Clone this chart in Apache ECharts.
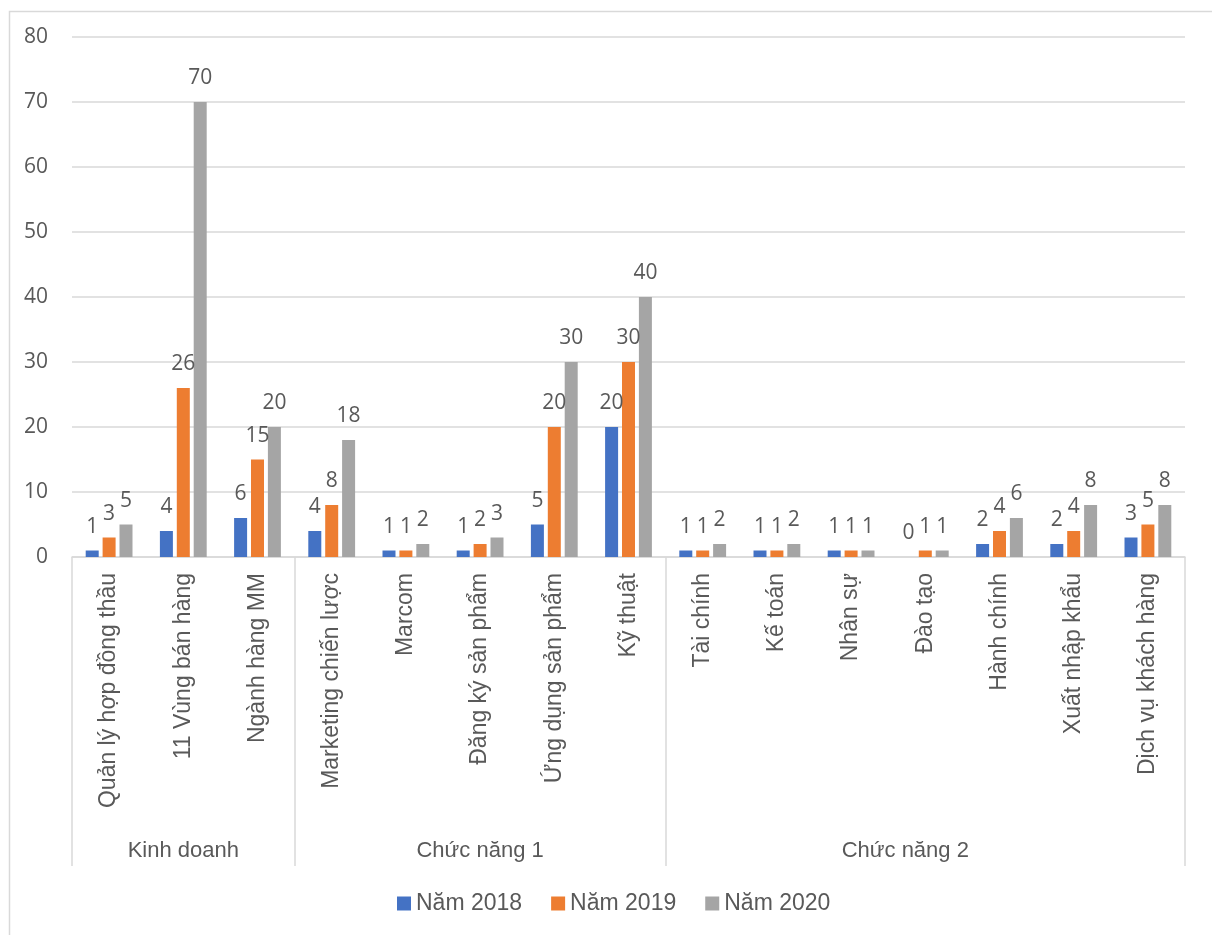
<!DOCTYPE html>
<html>
<head>
<meta charset="utf-8">
<script src="https://cdn.jsdelivr.net/npm/echarts@6/dist/echarts.min.js"></script>
<style>
html,body{margin:0;padding:0;background:#fff;}
#chart{width:1212px;height:935px;}
</style>
</head>
<body>
<div id="chart"></div>
<script>
const categories = ["Quản lý hợp đồng thầu","11 Vùng bán hàng","Ngành hàng MM","Marketing chiến lược","Marcom","Đăng ký sản phẩm","Ứng dụng sản phẩm","Kỹ thuật","Tài chính","Kế toán","Nhân sự","Đào tạo","Hành chính","Xuất nhập khẩu","Dịch vụ khách hàng"];
const groupNames = ["Kinh doanh","Chức năng 1","Chức năng 2"];
const groupSizes = [3,5,7];
const seriesNames = ["Năm 2018","Năm 2019","Năm 2020"];
const values2018 = [1,4,6,4,1,1,5,20,1,1,1,0,2,2,3];
const values2019 = [3,26,15,8,1,2,20,30,1,1,1,1,4,4,5];
const values2020 = [5,70,20,18,2,3,30,40,2,2,1,1,6,8,8];
const yTicks = [0,10,20,30,40,50,60,70,80];

const colors = ["#4472C4","#ED7D31","#A5A5A5"];
const textColor = "#595959";
const lineColor = "#d9d9d9";
const numFont = "Open Sans";
const txtFont = "Liberation Sans";

// group boundaries and centres derived from group sizes
const bounds = [0];
groupSizes.forEach(s => bounds.push(bounds[bounds.length-1] + s));
const centres = groupSizes.map((s,i) => bounds[i] + s/2);

const chart = echarts.init(document.getElementById('chart'), null, {renderer:'canvas'});

function barSeries(name, data, color){
  return {
    name: name, type: 'bar', xAxisIndex: 0, yAxisIndex: 0,
    data: data, barWidth: 13, barGap: '30%',
    itemStyle: {color: color},
    label: {show: true, position: 'top', distance: 13, color: textColor, fontFamily: numFont, fontSize: 21}
  };
}

chart.setOption({
  animation: false,
  backgroundColor: '#fff',
  graphic: [{
    type: 'rect', left: 7, top: 9, silent: true,
    shape: {width: 1400, height: 1100},
    style: {fill: 'none', stroke: lineColor, lineWidth: 1.5}
  }],
  legend: {
    left: 392, top: 887,
    itemWidth: 14, itemHeight: 14, itemGap: 29,
    icon: 'rect',
    textStyle: {color: textColor, fontFamily: txtFont, fontSize: 23},
    data: seriesNames
  },
  grid: {left: 72, right: 27, top: 37, bottom: 378},
  xAxis: [{
    type: 'category', data: categories, position: 'bottom',
    axisLine: {show: true, lineStyle: {color: lineColor, width: 1.5}},
    axisTick: {show: false},
    axisLabel: {rotate: 90, margin: 16, color: textColor, fontFamily: txtFont, fontSize: 23, interval: 0}
  },{
    type: 'value', min: 0, max: categories.length, position: 'bottom',
    axisLine: {show: false},
    splitLine: {show: false},
    axisTick: {show: true, length: 309, customValues: bounds, lineStyle: {color: lineColor, width: 1.5}},
    axisLabel: {
      show: true, margin: 283, color: textColor, fontFamily: txtFont, fontSize: 22,
      customValues: centres,
      formatter: function(v){
        const i = centres.indexOf(v);
        if (i < 0) return '';
        return i === groupNames.length - 1 ? '{last|' + groupNames[i] + '}' : groupNames[i];
      },
      rich: {last: {color: textColor, fontFamily: txtFont, fontSize: 22, padding: [0, 40, 0, 0]}}
    }
  }],
  yAxis: {
    type: 'value', min: yTicks[0], max: yTicks[yTicks.length-1], interval: yTicks[1]-yTicks[0],
    axisLine: {show: false}, axisTick: {show: false},
    splitLine: {lineStyle: {color: lineColor, width: 1.5}},
    axisLabel: {margin: 24, color: textColor, fontFamily: numFont, fontSize: 21}
  },
  series: [
    barSeries(seriesNames[0], values2018, colors[0]),
    barSeries(seriesNames[1], values2019, colors[1]),
    barSeries(seriesNames[2], values2020, colors[2])
  ]
});
</script>
</body>
</html>
